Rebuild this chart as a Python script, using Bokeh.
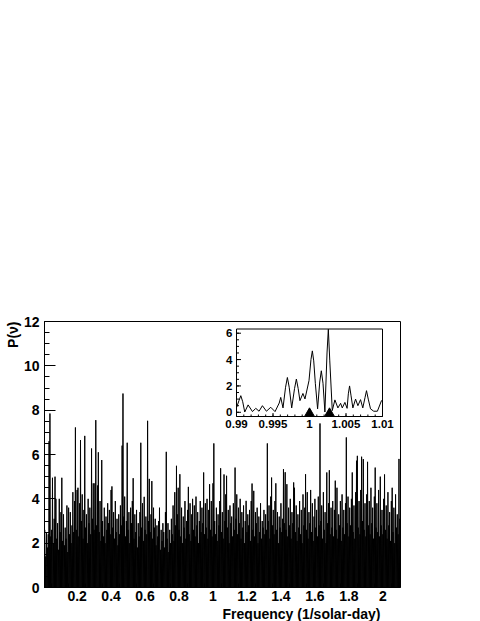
import numpy as np
from bokeh.plotting import figure
from bokeh.models import Range1d, FixedTicker, Title
from bokeh.core.properties import value
from bokeh.embed import file_html
from bokeh.resources import INLINE

# ---------------- data ----------------
# main periodogram: local maxima of P(nu) on a 0.005 (1/solar-day) grid starting at 0.010
freq_start = 0.010
freq_step = 0.005
power = [
    # 0.010 - 0.105
    2.6, 1.4, 2.5, 1.8, 2.4, 6.6, 7.85, 2.3, 2.6, 4.95, 2.0, 3.1, 5.0, 4.0, 2.2, 2.9, 1.7, 4.0, 2.5, 3.4,
    # 0.110 - 0.205
    4.95, 2.1, 3.3, 1.9, 2.7, 2.2, 3.7, 1.6, 3.6, 2.4, 3.4, 2.0, 2.8, 4.3, 2.5, 3.9, 7.22, 2.6, 4.4, 4.5,
    # 0.210 - 0.305
    2.3, 3.8, 6.65, 3.0, 4.2, 2.2, 3.5, 6.84, 2.7, 3.3, 2.0, 4.0, 2.9, 3.6, 2.4, 6.27, 3.1, 4.7, 2.6, 4.7,
    # 0.310 - 0.405
    7.55, 2.8, 4.6, 6.1, 2.5, 3.9, 2.1, 5.75, 3.0, 2.3, 3.6, 2.0, 3.2, 2.6, 3.8, 2.9, 3.5, 2.4, 4.4, 4.56,
    # 0.410 - 0.505
    2.7, 3.4, 2.2, 3.9, 2.5, 3.1, 1.9, 3.3, 2.4, 3.7, 2.8, 6.4, 8.75, 3.2, 4.1, 2.3, 3.0, 6.53, 2.6, 3.4,
    # 0.510 - 0.605
    2.0, 3.6, 2.9, 3.9, 4.93, 2.2, 3.3, 2.5, 3.5, 1.8, 2.9, 2.3, 3.4, 6.53, 2.7, 3.8, 2.1, 4.09, 2.6, 3.2,
    # 0.610 - 0.705
    2.4, 7.52, 3.0, 4.9, 2.5, 3.3, 4.8, 2.2, 3.6, 2.7, 3.1, 1.9, 2.8, 2.3, 3.0, 3.6, 1.7, 2.6, 2.1, 2.9,
    # 0.710 - 0.805
    2.5, 1.8, 3.4, 6.12, 2.2, 2.9, 1.6, 2.6, 2.0, 3.1, 2.4, 3.7, 2.1, 4.3, 2.8, 5.49, 3.3, 4.5, 2.6, 5.11,
    # 0.810 - 0.905
    2.3, 3.6, 2.0, 3.2, 2.7, 3.9, 2.2, 3.0, 3.5, 4.54, 2.4, 3.8, 2.1, 3.3, 4.0, 2.6, 3.7, 2.3, 4.1, 2.8,
    # 0.910 - 1.005
    3.4, 2.0, 3.0, 3.9, 2.5, 3.6, 2.9, 5.19, 2.4, 3.8, 2.7, 4.0, 2.2, 3.5, 4.66, 2.6, 3.9, 2.3, 4.7, 6.5,
    # 1.010 - 1.105
    3.0, 2.4, 3.6, 2.1, 3.3, 2.8, 3.9, 5.38, 2.5, 3.4, 2.2, 5.1, 3.0, 4.2, 5.04, 2.7, 3.5, 2.0, 3.7, 2.9,
    # 1.110 - 1.205
    3.2, 2.3, 3.8, 2.6, 5.41, 3.1, 4.2, 2.4, 3.6, 2.9, 4.0, 2.2, 3.4, 2.7, 3.7, 2.0, 3.0, 3.91, 2.5, 3.3,
    # 1.210 - 1.305
    2.8, 3.5, 2.1, 3.9, 4.69, 2.6, 4.36, 2.3, 3.4, 2.9, 3.6, 2.0, 3.2, 2.5, 3.8, 2.2, 3.0, 2.7, 3.5, 2.4,
    # 1.310 - 1.405
    3.3, 2.6, 6.5, 3.0, 3.7, 2.2, 4.1, 4.96, 2.8, 3.5, 2.4, 3.9, 4.7, 2.6, 3.4, 2.0, 3.2, 2.7, 3.8, 2.5,
    # 1.410 - 1.505
    3.1, 5.34, 2.9, 5.2, 2.6, 4.66, 2.3, 3.6, 2.8, 4.0, 2.2, 3.4, 2.9, 4.74, 4.5, 2.5, 3.7, 2.1, 3.3, 2.7,
    # 1.510 - 1.605
    3.9, 2.4, 3.5, 2.0, 4.2, 2.8, 3.6, 5.11, 2.6, 4.3, 2.2, 3.4, 2.9, 4.4, 2.5, 3.8, 2.1, 3.2, 4.0, 2.7,
    # 1.610 - 1.705
    3.5, 2.3, 4.1, 2.8, 7.4, 3.0, 3.7, 2.2, 4.3, 2.6, 3.4, 2.0, 5.19, 2.9, 3.8, 5.29, 2.4, 3.6, 2.7, 3.9,
    # 1.710 - 1.805
    2.3, 3.5, 4.82, 2.6, 4.5, 2.2, 3.3, 2.8, 3.9, 2.1, 4.2, 2.7, 3.5, 2.4, 3.8, 6.77, 2.9, 4.1, 2.3, 3.6,
    # 1.810 - 1.905
    2.8, 4.0, 5.19, 2.5, 3.7, 2.2, 4.3, 5.72, 5.94, 2.7, 3.9, 2.4, 4.4, 5.9, 3.0, 5.79, 2.6, 3.8, 2.3, 4.2,
    # 1.910 - 2.005
    5.67, 2.8, 3.9, 2.4, 4.5, 2.9, 3.6, 2.2, 4.1, 5.41, 2.7, 3.8, 2.5, 4.4, 2.3, 5.0, 2.8, 3.5, 2.4, 4.0,
    # 2.010 - 2.100
    5.1, 2.6, 3.7, 2.2, 4.3, 2.8, 3.4, 2.1, 3.9, 4.5, 2.5, 3.6, 2.0, 4.2, 2.7, 3.3, 2.4, 5.8, 3.1,
]
freq = np.round(freq_start + freq_step * np.arange(len(power)), 4)

x_ticks = [0.2, 0.4, 0.6, 0.8, 1.0, 1.2, 1.4, 1.6, 1.8, 2.0]
x_tick_labels = ["0.2", "0.4", "0.6", "0.8", "1", "1.2", "1.4", "1.6", "1.8", "2"]
y_ticks = [0, 2, 4, 6, 8, 10, 12]

# inset: zoom around 1 cycle/day
inset_freq = [0.99000, 0.99035, 0.99059, 0.99085, 0.99113, 0.99159, 0.99219, 0.99264, 0.99309,
              0.99355, 0.99410, 0.99469, 0.99528, 0.99585, 0.99606, 0.99637, 0.99672, 0.99697,
              0.99722, 0.99756, 0.99795, 0.99820, 0.99845, 0.99869, 0.99910, 0.99938, 0.99993,
              1.00020, 1.00039, 1.00058, 1.00080, 1.00111, 1.00140, 1.00162, 1.00185, 1.00211,
              1.00240, 1.00258, 1.00278, 1.00312, 1.00348, 1.00389, 1.00426, 1.00449, 1.00485,
              1.00515, 1.00532, 1.00549, 1.00568, 1.00594, 1.00631, 1.00663, 1.00699, 1.00730,
              1.00760, 1.00781, 1.00805, 1.00836, 1.00880, 1.00930, 1.00986, 1.01000]
inset_power = [0.35, 0.90, 1.26, 0.80, 0.02, 0.56, 0.05, 0.30, 0.08,
               0.50, 0.08, 0.38, 0.05, 0.70, 1.13, 0.33, 1.90, 2.64,
               1.90, 0.33, 1.80, 2.52, 1.80, 0.88, 1.43, 1.01, 2.40,
               4.00, 4.66, 3.90, 2.20, 0.26, 2.30, 3.15, 2.20, 0.02,
               4.50, 6.30, 3.90, 0.13, 0.94, 0.33, 0.68, 0.33, 0.75,
               0.30, 1.40, 2.00, 1.30, 0.33, 1.00, 0.50, 0.96, 0.33,
               1.10, 1.64, 1.00, 0.26, 0.08, 0.08, 0.88, 0.95]
marker_freq = [1.0, 1.00274]   # solar day, sidereal day
inset_x_ticks = [0.99, 0.995, 1.0, 1.005, 1.01]
inset_x_labels = ["0.99", "0.995", "1", "1.005", "1.01"]
inset_y_ticks = [0, 2, 4, 6]
inset_y_labels = ["0", "2", "4", "6"]

# ---------------- geometry / styling ----------------
FONT = "Liberation Sans"
FIG_W, FIG_H = 480, 621
B_L, B_R, B_T, B_B = 44, 80, 321, 34
FR_L, FR_R, FR_T, FR_B = B_L, FIG_W - B_R, B_T, FIG_H - B_B
X0, X1 = 0.008, 2.104

p = figure(width=FIG_W, height=FIG_H,
           min_border_left=B_L, min_border_right=B_R, min_border_top=B_T, min_border_bottom=B_B,
           x_range=Range1d(X0, X1), y_range=Range1d(0, 12),
           output_backend="svg", toolbar_location=None)
p.xgrid.visible = False
p.ygrid.visible = False
p.outline_line_color = "black"
p.outline_line_alpha = 1.0
p.outline_line_width = 1
p.background_fill_color = "white"
p.border_fill_color = "white"

# zig-zag trace: each local maximum followed by a dip to the baseline
zx = np.empty(2 * len(power))
zy = np.zeros(2 * len(power))
zx[0::2] = freq
zx[1::2] = freq + freq_step / 2
zy[0::2] = power
p.line(zx, zy, line_color="black", line_width=1)

p.xaxis.ticker = FixedTicker(ticks=x_ticks, minor_ticks=list(np.round(np.arange(0.05, 2.11, 0.05), 3)))
p.xaxis.major_label_overrides = {t: l for t, l in zip(x_ticks, x_tick_labels)}
p.yaxis.ticker = FixedTicker(ticks=y_ticks, minor_ticks=list(np.arange(0, 12.01, 0.5)))

for ax in (p.xaxis[0], p.yaxis[0]):
    ax.major_label_text_font = FONT
    ax.major_label_text_font_style = "bold"
    ax.major_label_text_font_size = "14px"
    ax.major_label_text_color = "black"
    ax.axis_line_color = "black"
    ax.major_tick_line_color = "black"
    ax.minor_tick_line_color = "black"
    ax.major_tick_out = 0
    ax.minor_tick_out = 0
p.yaxis.major_tick_in = 11
p.yaxis.minor_tick_in = 5
p.xaxis.major_tick_in = 8
p.xaxis.minor_tick_in = 4
p.xaxis.major_label_standoff = 3
p.yaxis.major_label_standoff = 5

p.add_layout(Title(text="Frequency (1/solar-day)", align="right", offset=20, standoff=0,
                   text_font=FONT, text_font_style="bold", text_font_size="14px",
                   text_color="black"), "below")
p.add_layout(Title(text="P(ν)", align="right", offset=0, standoff=0,
                   text_font=FONT, text_font_style="bold", text_font_size="14px",
                   text_color="black"), "left")

# ---------------- inset (drawn inside the main frame on its own ranges) ----------------
IX0, IX1 = 0.99, 1.01
IY0, IY1 = -0.32, 6.32
IN_L, IN_R, IN_T, IN_B = 236.0, 382.0, 328.5, 416.0
sx = (IN_R - IN_L) / (IX1 - IX0)
sy = (IN_B - IN_T) / (IY1 - IY0)
p.extra_x_ranges = {"ix": Range1d(IX0 - (IN_L - FR_L) / sx, IX1 + (FR_R - IN_R) / sx)}
p.extra_y_ranges = {"iy": Range1d(IY0 - (FR_B - IN_B) / sy, IY1 + (IN_T - FR_T) / sy)}
R = dict(x_range_name="ix", y_range_name="iy")

p.quad(left=[IX0], right=[IX1], bottom=[IY0], top=[IY1], fill_color=None,
       line_color="black", line_width=1, **R)
p.line(inset_freq, inset_power, line_color="black", line_width=1, **R)

tri_size = 10
tri_y = IY0 + (tri_size / 2 * np.sqrt(3) / 3) / sy
p.scatter(marker_freq, [tri_y] * len(marker_freq), marker="triangle", size=tri_size,
          fill_color="black", line_color="black", **R)

# inset ticks (inward)
iy_minor = list(np.arange(0, 6.01, 0.5))
ix_minor = list(np.round(np.arange(0.99, 1.0101, 0.001), 4))
p.segment(x0=[IX0] * len(inset_y_ticks), y0=inset_y_ticks,
          x1=[IX0 + 4.5 / sx] * len(inset_y_ticks), y1=inset_y_ticks, line_color="black", **R)
p.segment(x0=[IX0] * len(iy_minor), y0=iy_minor,
          x1=[IX0 + 2.5 / sx] * len(iy_minor), y1=iy_minor, line_color="black", **R)
p.segment(x0=inset_x_ticks, y0=[IY0] * len(inset_x_ticks),
          x1=inset_x_ticks, y1=[IY0 + 3.5 / sy] * len(inset_x_ticks), line_color="black", **R)
p.segment(x0=ix_minor, y0=[IY0] * len(ix_minor),
          x1=ix_minor, y1=[IY0 + 2 / sy] * len(ix_minor), line_color="black", **R)

# inset tick labels
lab_kw = dict(text_font_size="11.5px", text_font_style="bold", text_color="black")
p.text(x=inset_x_ticks, y=[IY0] * len(inset_x_ticks), text=inset_x_labels, y_offset=3,
       text_align="center", text_baseline="top", text_font=value(FONT), **lab_kw, **R)
p.text(x=[IX0] * len(inset_y_ticks), y=inset_y_ticks, text=inset_y_labels, x_offset=-4,
       text_align="right", text_baseline="middle", text_font=value(FONT), **lab_kw, **R)

open("out.html", "w").write(file_html(p, INLINE))
